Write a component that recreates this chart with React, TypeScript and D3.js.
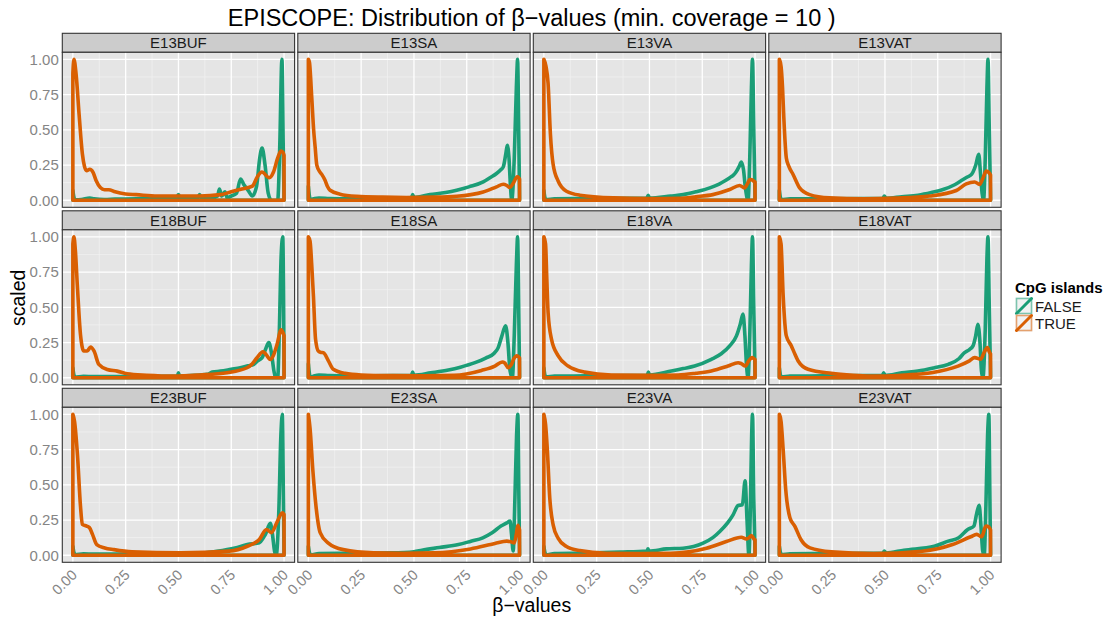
import React from "react";
import * as d3 from "d3";

type Pt = [number, number];

const PANELS = ["E13BUF", "E13SA", "E13VA", "E13VAT", "E18BUF", "E18SA", "E18VA", "E18VAT", "E23BUF", "E23SA", "E23VA", "E23VAT"];
const GROUPS = ["FALSE", "TRUE"];
const COLORS = ["#1B9E77", "#D95F02"];
const X_TICKS = [0, 0.25, 0.5, 0.75, 1];
const Y_TICKS = [0, 0.25, 0.5, 0.75, 1];
const MINOR = [0.125, 0.375, 0.625, 0.875];
const TITLE = "EPISCOPE: Distribution of β−values (min. coverage = 10 )";
const X_TITLE = "β−values";
const Y_TITLE = "scaled";
const LEGEND_TITLE = "CpG islands";

// ---- FALSE (non-CpG-island) scaled densities ----
const E13BUF_F: Pt[] = [[0,0.07],[0.004,0.03],[0.01,0.003],[0.04,0.005],[0.08,0.015],[0.1,0.01],[0.15,0.005],[0.2,0.008],[0.3,0.01],[0.35,0.015],[0.4,0.01],[0.49,0.01],[0.5,0.04],[0.51,0.01],[0.55,0.015],[0.59,0.015],[0.6,0.04],[0.61,0.015],[0.65,0.02],[0.685,0.03],[0.694,0.08],[0.705,0.03],[0.72,0.06],[0.73,0.02],[0.75,0.03],[0.775,0.05],[0.794,0.15],[0.81,0.11],[0.83,0.07],[0.85,0.03],[0.87,0.1],[0.885,0.3],[0.896,0.37],[0.91,0.25],[0.925,0.05],[0.94,0.0],[0.97,0.0],[0.98,0.4],[0.99,1.0],[0.996,0.4],[1.0,0.0]];
const E13SA_F: Pt[] = [[0,0.1],[0.005,0.03],[0.01,0.005],[0.03,0.012],[0.05,0.015],[0.1,0.012],[0.2,0.01],[0.3,0.012],[0.4,0.015],[0.488,0.018],[0.494,0.04],[0.5,0.02],[0.576,0.04],[0.65,0.055],[0.702,0.071],[0.76,0.095],[0.828,0.13],[0.86,0.16],[0.891,0.19],[0.91,0.215],[0.923,0.237],[0.935,0.33],[0.942,0.39],[0.95,0.3],[0.957,0.1],[0.963,0.0],[0.975,0.3],[0.985,0.8],[0.991,1.0],[0.996,0.5],[1.0,0.02]];
const E13VA_F: Pt[] = [[0,0.07],[0.005,0.02],[0.01,0.005],[0.05,0.01],[0.2,0.012],[0.4,0.014],[0.488,0.016],[0.494,0.035],[0.5,0.016],[0.6,0.03],[0.66,0.04],[0.72,0.06],[0.786,0.088],[0.83,0.115],[0.86,0.14],[0.88,0.16],[0.895,0.175],[0.91,0.2],[0.925,0.24],[0.935,0.271],[0.945,0.22],[0.955,0.08],[0.967,0.0],[0.975,0.3],[0.983,0.8],[0.988,1.0],[0.994,0.5],[1.0,0.02]];
const E13VAT_F: Pt[] = [[0,0.07],[0.005,0.02],[0.01,0.005],[0.05,0.01],[0.2,0.01],[0.4,0.012],[0.49,0.014],[0.497,0.03],[0.505,0.014],[0.58,0.025],[0.657,0.036],[0.72,0.055],[0.775,0.076],[0.83,0.11],[0.87,0.147],[0.89,0.165],[0.91,0.183],[0.93,0.25],[0.944,0.326],[0.952,0.2],[0.96,0.05],[0.967,0.0],[0.975,0.3],[0.983,0.8],[0.988,1.0],[0.994,0.5],[1.0,0.02]];
const E18BUF_F: Pt[] = [[0,0.07],[0.005,0.02],[0.01,0.003],[0.05,0.01],[0.1,0.008],[0.2,0.008],[0.3,0.008],[0.4,0.01],[0.495,0.012],[0.5,0.035],[0.505,0.012],[0.6,0.02],[0.636,0.024],[0.66,0.04],[0.699,0.047],[0.75,0.06],[0.793,0.071],[0.83,0.085],[0.857,0.095],[0.875,0.12],[0.896,0.142],[0.912,0.2],[0.928,0.249],[0.94,0.18],[0.952,0.05],[0.96,0.0],[0.97,0.0],[0.978,0.35],[0.986,0.85],[0.994,1.0],[0.998,0.5],[1.0,0.05]];
const E18SA_F: Pt[] = [[0,0.1],[0.005,0.03],[0.01,0.005],[0.03,0.015],[0.05,0.02],[0.1,0.015],[0.2,0.012],[0.3,0.013],[0.4,0.015],[0.488,0.018],[0.494,0.04],[0.5,0.018],[0.58,0.035],[0.663,0.055],[0.72,0.075],[0.789,0.107],[0.84,0.14],[0.88,0.174],[0.899,0.214],[0.915,0.29],[0.934,0.369],[0.945,0.25],[0.955,0.05],[0.966,0.0],[0.975,0.3],[0.985,0.8],[0.991,1.0],[0.996,0.5],[1.0,0.02]];
const E18VA_F: Pt[] = [[0,0.07],[0.005,0.02],[0.01,0.005],[0.05,0.012],[0.2,0.013],[0.4,0.015],[0.489,0.018],[0.495,0.04],[0.5,0.02],[0.604,0.048],[0.66,0.065],[0.714,0.083],[0.793,0.131],[0.84,0.17],[0.88,0.226],[0.912,0.297],[0.93,0.38],[0.943,0.452],[0.952,0.3],[0.96,0.08],[0.967,0.0],[0.975,0.3],[0.983,0.8],[0.988,1.0],[0.994,0.5],[1.0,0.02]];
const E18VAT_F: Pt[] = [[0,0.07],[0.005,0.02],[0.01,0.005],[0.05,0.012],[0.2,0.013],[0.4,0.015],[0.488,0.016],[0.494,0.035],[0.5,0.016],[0.58,0.035],[0.656,0.048],[0.73,0.07],[0.8,0.095],[0.85,0.135],[0.877,0.178],[0.9,0.2],[0.917,0.226],[0.93,0.3],[0.94,0.38],[0.95,0.25],[0.957,0.05],[0.964,0.0],[0.975,0.35],[0.983,0.85],[0.988,1.0],[0.994,0.5],[1.0,0.02]];
const E23BUF_F: Pt[] = [[0,0.064],[0.005,0.02],[0.01,0.003],[0.05,0.01],[0.1,0.008],[0.2,0.008],[0.4,0.01],[0.5,0.01],[0.6,0.015],[0.682,0.029],[0.768,0.052],[0.826,0.076],[0.883,0.088],[0.9,0.12],[0.912,0.148],[0.935,0.226],[0.945,0.15],[0.955,0.03],[0.963,0.0],[0.975,0.3],[0.985,0.85],[0.992,1.0],[0.997,0.4],[1.0,0.02]];
const E23SA_F: Pt[] = [[0,0.064],[0.005,0.02],[0.01,0.003],[0.05,0.012],[0.2,0.014],[0.395,0.017],[0.5,0.025],[0.538,0.036],[0.62,0.055],[0.711,0.076],[0.77,0.1],[0.826,0.124],[0.87,0.16],[0.912,0.207],[0.94,0.23],[0.955,0.243],[0.962,0.15],[0.97,0.03],[0.978,0.4],[0.986,0.85],[0.992,1.0],[0.997,0.4],[1.0,0.02]];
const E23VA_F: Pt[] = [[0,0.064],[0.005,0.02],[0.01,0.003],[0.05,0.012],[0.2,0.015],[0.36,0.022],[0.488,0.03],[0.493,0.045],[0.498,0.03],[0.58,0.045],[0.659,0.05],[0.754,0.086],[0.8,0.125],[0.833,0.169],[0.87,0.23],[0.896,0.287],[0.92,0.353],[0.94,0.358],[0.953,0.528],[0.962,0.25],[0.971,0.0],[0.978,0.35],[0.984,0.85],[0.988,1.0],[0.994,0.4],[1.0,0.02]];
const E23VAT_F: Pt[] = [[0,0.064],[0.005,0.02],[0.01,0.003],[0.05,0.01],[0.2,0.012],[0.4,0.014],[0.49,0.016],[0.497,0.03],[0.505,0.016],[0.59,0.036],[0.734,0.064],[0.8,0.1],[0.849,0.124],[0.892,0.183],[0.921,0.207],[0.935,0.3],[0.946,0.355],[0.955,0.2],[0.963,0.03],[0.97,0.0],[0.978,0.35],[0.986,0.85],[0.992,1.0],[0.997,0.4],[1.0,0.02]];

// ---- TRUE (CpG-island) scaled densities ----
const E13BUF_T: Pt[] = [[0,0.9],[0.005,1.0],[0.015,0.9],[0.03,0.6],[0.045,0.33],[0.055,0.24],[0.065,0.21],[0.08,0.22],[0.095,0.2],[0.11,0.14],[0.13,0.09],[0.15,0.075],[0.17,0.075],[0.2,0.06],[0.25,0.045],[0.3,0.04],[0.4,0.03],[0.5,0.03],[0.6,0.03],[0.7,0.04],[0.75,0.06],[0.8,0.08],[0.85,0.1],[0.875,0.17],[0.895,0.2],[0.93,0.16],[0.95,0.2],[0.97,0.3],[0.985,0.35],[0.995,0.34],[1.0,0.32]];
const E13SA_T: Pt[] = [[0,1.0],[0.005,0.98],[0.016,0.73],[0.025,0.5],[0.032,0.38],[0.04,0.25],[0.055,0.2],[0.065,0.18],[0.079,0.142],[0.09,0.1],[0.103,0.071],[0.15,0.043],[0.229,0.028],[0.35,0.022],[0.465,0.02],[0.6,0.022],[0.702,0.028],[0.77,0.04],[0.828,0.059],[0.891,0.095],[0.923,0.114],[0.94,0.105],[0.954,0.09],[0.97,0.12],[0.989,0.166],[0.996,0.16],[1.0,0.15]];
const E13VA_T: Pt[] = [[0,1.0],[0.01,0.95],[0.02,0.83],[0.031,0.47],[0.044,0.254],[0.068,0.135],[0.107,0.064],[0.17,0.036],[0.33,0.017],[0.5,0.012],[0.64,0.014],[0.72,0.025],[0.8,0.04],[0.88,0.076],[0.927,0.105],[0.95,0.088],[0.965,0.12],[0.975,0.147],[0.985,0.145],[0.994,0.135],[1.0,0.13]];
const E13VAT_T: Pt[] = [[0,1.0],[0.008,0.95],[0.015,0.8],[0.021,0.59],[0.033,0.3],[0.045,0.24],[0.065,0.183],[0.096,0.088],[0.143,0.04],[0.237,0.017],[0.4,0.01],[0.55,0.015],[0.712,0.03],[0.838,0.069],[0.885,0.116],[0.925,0.13],[0.948,0.112],[0.965,0.16],[0.98,0.207],[0.993,0.195],[1.0,0.18]];
const E18BUF_T: Pt[] = [[0,0.95],[0.005,1.0],[0.012,0.9],[0.021,0.66],[0.036,0.308],[0.052,0.19],[0.068,0.19],[0.084,0.218],[0.1,0.19],[0.123,0.095],[0.163,0.059],[0.21,0.047],[0.257,0.028],[0.35,0.018],[0.478,0.012],[0.6,0.02],[0.73,0.036],[0.825,0.071],[0.85,0.1],[0.872,0.142],[0.9,0.185],[0.915,0.165],[0.935,0.13],[0.95,0.16],[0.967,0.237],[0.986,0.34],[0.995,0.32],[1.0,0.3]];
const E18SA_T: Pt[] = [[0,1.0],[0.008,0.97],[0.016,0.8],[0.024,0.58],[0.034,0.274],[0.047,0.19],[0.06,0.18],[0.071,0.178],[0.095,0.12],[0.118,0.06],[0.174,0.031],[0.25,0.02],[0.4,0.015],[0.55,0.014],[0.69,0.017],[0.82,0.052],[0.883,0.083],[0.918,0.112],[0.93,0.105],[0.946,0.071],[0.96,0.09],[0.975,0.14],[0.986,0.155],[0.995,0.15],[1.0,0.14]];
const E18VA_T: Pt[] = [[0,1.0],[0.008,0.95],[0.014,0.7],[0.02,0.464],[0.036,0.274],[0.068,0.155],[0.115,0.083],[0.193,0.04],[0.32,0.02],[0.5,0.018],[0.636,0.02],[0.72,0.032],[0.793,0.048],[0.872,0.083],[0.92,0.107],[0.935,0.1],[0.954,0.083],[0.97,0.12],[0.986,0.143],[0.995,0.135],[1.0,0.13]];
const E18VAT_T: Pt[] = [[0,1.0],[0.008,0.95],[0.018,0.583],[0.033,0.297],[0.057,0.226],[0.07,0.18],[0.089,0.119],[0.136,0.06],[0.246,0.031],[0.35,0.018],[0.483,0.012],[0.6,0.02],[0.72,0.036],[0.846,0.083],[0.9,0.12],[0.925,0.143],[0.953,0.131],[0.97,0.18],[0.985,0.214],[0.996,0.178],[1.0,0.17]];
const E23BUF_T: Pt[] = [[0,1.0],[0.008,0.95],[0.022,0.707],[0.036,0.35],[0.045,0.219],[0.065,0.207],[0.079,0.195],[0.093,0.148],[0.113,0.076],[0.151,0.052],[0.194,0.04],[0.28,0.024],[0.51,0.017],[0.74,0.029],[0.826,0.064],[0.883,0.112],[0.917,0.183],[0.94,0.16],[0.969,0.243],[0.992,0.302],[1.0,0.29]];
const E23SA_T: Pt[] = [[0,1.0],[0.008,0.9],[0.022,0.588],[0.036,0.35],[0.056,0.16],[0.093,0.088],[0.165,0.04],[0.309,0.017],[0.45,0.014],[0.596,0.017],[0.768,0.045],[0.883,0.083],[0.94,0.1],[0.96,0.095],[0.975,0.088],[0.985,0.15],[0.992,0.212],[1.0,0.18]];
const E23VA_T: Pt[] = [[0,1.0],[0.008,0.93],[0.016,0.76],[0.028,0.405],[0.044,0.216],[0.068,0.12],[0.107,0.062],[0.17,0.033],[0.297,0.014],[0.45,0.012],[0.6,0.014],[0.77,0.05],[0.864,0.097],[0.935,0.128],[0.959,0.116],[0.972,0.125],[0.983,0.14],[0.995,0.115],[1.0,0.11]];
const E23VAT_T: Pt[] = [[0,1.0],[0.008,0.95],[0.018,0.75],[0.03,0.469],[0.05,0.267],[0.073,0.207],[0.102,0.112],[0.145,0.052],[0.246,0.024],[0.447,0.012],[0.677,0.029],[0.82,0.076],[0.906,0.131],[0.935,0.148],[0.958,0.131],[0.978,0.207],[0.992,0.2],[1.0,0.18]];

const FALSE_SERIES = [E13BUF_F, E13SA_F, E13VA_F, E13VAT_F, E18BUF_F, E18SA_F, E18VA_F, E18VAT_F, E23BUF_F, E23SA_F, E23VA_F, E23VAT_F];
const TRUE_SERIES = [E13BUF_T, E13SA_T, E13VA_T, E13VAT_T, E18BUF_T, E18SA_T, E18VA_T, E18VAT_T, E23BUF_T, E23SA_T, E23VA_T, E23VAT_T];

const FONT = "'Liberation Sans', Arial, Helvetica, sans-serif";

export default function App() {
  const W = 1110, H = 621;
  const left0 = 62.3, colPitch = 235.5, pw = 232.3;
  const top0 = 33.3, rowPitch = 177.5, stripH = 19, ph = 155;
  const x = d3.scaleLinear().domain([-0.05, 1.05]).range([0, pw]);
  const y = d3.scaleLinear().domain([-0.05, 1.05]).range([ph, 0]);
  const fmt = d3.format(".2f");
  const area = d3.area<Pt>().x(d => x(d[0])).y0(y(0)).y1(d => y(d[1])).curve(d3.curveMonotoneX);
  const tickColor = "#858585";
  const panelsBottom = top0 + 2 * rowPitch + stripH + ph;
  const panelsRight = left0 + 3 * colPitch + pw;

  return (
    <div style={{ position: "absolute", left: 0, top: 0 }}>
      <svg width={W} height={H} style={{ display: "block", fontFamily: FONT }}>
        <rect width={W} height={H} fill="#ffffff" />
        <text x={(left0 + panelsRight) / 2} y={25.5} textAnchor="middle" fontSize={23.5} fill="#000">{TITLE}</text>
        {PANELS.map((name, i) => {
          const c = i % 4, r = Math.floor(i / 4);
          const px = left0 + c * colPitch;
          const sy = top0 + r * rowPitch;
          const py = sy + stripH;
          return (
            <g key={name}>
              <rect x={px} y={sy} width={pw} height={stripH} fill="#CCCCCC" stroke="#333" strokeWidth={1.1} />
              <text x={px + pw / 2} y={sy + stripH / 2 + 5.3} textAnchor="middle" fontSize={15} fill="#1A1A1A">{name}</text>
              <g transform={`translate(${px},${py})`}>
                <rect width={pw} height={ph} fill="#E5E5E5" />
                {MINOR.map(v => (
                  <g key={"m" + v}>
                    <line x1={x(v)} x2={x(v)} y1={0} y2={ph} stroke="#F2F2F2" strokeWidth={0.7} />
                    <line x1={0} x2={pw} y1={y(v)} y2={y(v)} stroke="#F2F2F2" strokeWidth={0.7} />
                  </g>
                ))}
                {X_TICKS.map(v => (
                  <line key={"gx" + v} x1={x(v)} x2={x(v)} y1={0} y2={ph} stroke="#FFFFFF" strokeWidth={1.3} />
                ))}
                {Y_TICKS.map(v => (
                  <line key={"gy" + v} x1={0} x2={pw} y1={y(v)} y2={y(v)} stroke="#FFFFFF" strokeWidth={1.3} />
                ))}
                {[FALSE_SERIES[i], TRUE_SERIES[i]].map((s, g) => (
                  <path key={GROUPS[g]} d={area(s) || ""} fill="none" stroke={COLORS[g]} strokeWidth={3.6} strokeLinejoin="round" />
                ))}
                <rect width={pw} height={ph} fill="none" stroke="#333" strokeWidth={1.1} />
                {c === 0 && Y_TICKS.map(v => (
                  <text key={"yl" + v} x={-3.5} y={y(v) + 5.3} textAnchor="end" fontSize={15} fill={tickColor}>{fmt(v)}</text>
                ))}
                {r === 2 && X_TICKS.map(v => (
                  <text key={"xl" + v} transform={`translate(${x(v) + 5},${ph + 13.5}) rotate(-45)`} textAnchor="end" fontSize={14.5} fill={tickColor}>{fmt(v)}</text>
                ))}
              </g>
            </g>
          );
        })}
        <text x={(left0 + panelsRight) / 2} y={612} textAnchor="middle" fontSize={19.5} fill="#000">{X_TITLE}</text>
        <text transform={`translate(25,${(top0 + panelsBottom) / 2}) rotate(-90)`} textAnchor="middle" fontSize={19.5} fill="#000">{Y_TITLE}</text>
        <g transform="translate(1015,280)">
          <text x={0} y={13.3} fontSize={15} fontWeight="bold" fill="#000">{LEGEND_TITLE}</text>
          {GROUPS.map((gname, g) => (
            <g key={gname} transform={`translate(0.5,${17.5 + g * 17})`}>
              <rect x={0} y={0} width={17} height={17} fill="#F2F2F2" />
              <rect x={1} y={1} width={15} height={15} fill="none" stroke={COLORS[g]} strokeOpacity={0.55} strokeWidth={1.6} />
              <line x1={1} y1={16} x2={16} y2={1} stroke={COLORS[g]} strokeWidth={3} strokeLinecap="round" />
              <text x={19.5} y={14} fontSize={15} fill="#1A1A1A">{gname}</text>
            </g>
          ))}
        </g>
      </svg>
    </div>
  );
}
